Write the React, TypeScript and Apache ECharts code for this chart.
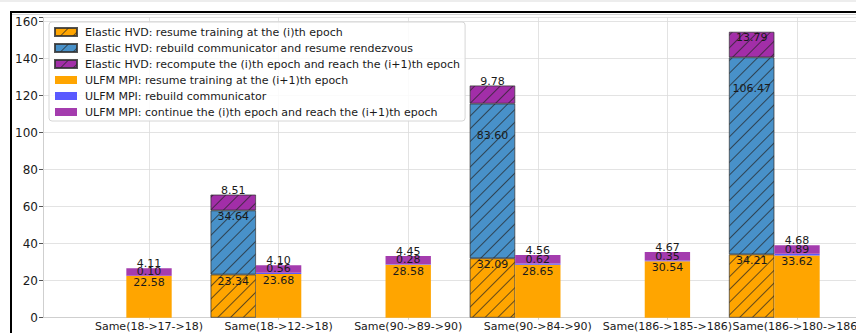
import React, { useEffect, useRef } from 'react';
import * as echarts from 'echarts';

// Recovery scenarios (start -> after failure -> restored worker count)
const categories = [
  'Same(18->17->18)',
  'Same(18->12->18)',
  'Same(90->89->90)',
  'Same(90->84->90)',
  'Same(186->185->186)',
  'Same(186->180->186)',
];

// Elastic Horovod recovery phases, seconds (no run for the single-loss cases)
const elasticResume: (number | null)[] = [null, 23.34, null, 32.09, null, 34.21];
const elasticRebuild: (number | null)[] = [null, 34.64, null, 83.6, null, 106.47];
const elasticRecompute: (number | null)[] = [null, 8.51, null, 9.78, null, 13.79];

// ULFM MPI recovery phases, seconds
const ulfmResume: number[] = [22.58, 23.68, 28.58, 28.65, 30.54, 33.62];
const ulfmRebuild: number[] = [0.1, 0.56, 0.28, 0.62, 0.35, 0.89];
const ulfmContinue: number[] = [4.11, 4.1, 4.45, 4.56, 4.67, 4.68];

const yTickStep = 20;

// ---- layout / style constants ----
const FONT = 'DejaVu Sans, Liberation Sans, sans-serif';
const BAR_SPAN = 0.35; // bar width in category units
const X_MIN = -0.818; // frame extent in category units
const X_MAX = 5.465;
const Y_MAX = 162.3;
const PX_PER_CAT = 129.6;
const GRID_LEFT = 43;
const GRID_TOP = 17.4;
const GRID_HEIGHT = 300.3;
const FIRST_TICK_X = GRID_LEFT - X_MIN * PX_PER_CAT;

const ORANGE = '#FFA500';
const E_BLUE = '#4891C9';
const E_PURPLE = '#A22EA8';
const U_BLUE = '#5A5AFF';
const U_PURPLE = '#A43CAE';

const hatch = {
  symbol: 'rect',
  symbolSize: 1,
  dashArrayX: [1, 0],
  dashArrayY: [1, 8],
  rotation: -Math.PI / 4,
  color: 'rgba(35,35,35,0.7)',
};

type Layer = 'base' | 'mid' | 'top';

function labelFor(layer: Layer, v: number) {
  if (layer === 'base') return { position: 'insideTop', distance: 1 };
  if (layer === 'mid') {
    if (v < 5) return { position: 'top', distance: 0, offset: [0, 1] };
    return { position: 'insideTop', distance: v > 50 ? 26 : 1 };
  }
  if (v > 12) return { position: 'insideTop', distance: 0 };
  return { position: 'top', distance: 0, offset: [0, 1] };
}

function items(values: (number | null)[], layer: Layer) {
  return values.map((v) => (v == null ? '-' : { value: v, label: labelFor(layer, v) }));
}

const labelBase = {
  show: true,
  color: '#1a1a1a',
  fontSize: 11,
  fontFamily: FONT,
  formatter: (p: any) => Number(p.value).toFixed(2),
};

function makeSeries(
  name: string,
  values: (number | null)[],
  layer: Layer,
  color: string,
  elastic: boolean
) {
  return {
    name,
    type: 'bar',
    stack: elastic ? 'elastic' : 'ulfm',
    xAxisIndex: 1,
    yAxisIndex: 1,
    barWidth: BAR_SPAN * PX_PER_CAT,
    barGap: '0%',
    data: items(values, layer),
    label: labelBase,
    itemStyle: elastic
      ? { color, borderColor: 'rgba(50,50,50,0.6)', borderWidth: 0.7, decal: hatch }
      : { color },
    emphasis: { disabled: true },
  };
}

const seriesDefs: any[] = [
  makeSeries('Elastic HVD: resume training at the (i)th epoch', elasticResume, 'base', ORANGE, true),
  makeSeries('Elastic HVD: rebuild communicator and resume rendezvous', elasticRebuild, 'mid', E_BLUE, true),
  makeSeries('Elastic HVD: recompute the (i)th epoch and reach the (i+1)th epoch', elasticRecompute, 'top', E_PURPLE, true),
  makeSeries('ULFM MPI: resume training at the (i+1)th epoch', ulfmResume, 'base', ORANGE, false),
  makeSeries('ULFM MPI: rebuild communicator', ulfmRebuild, 'mid', U_BLUE, false),
  makeSeries('ULFM MPI: continue the (i)th epoch and reach the (i+1)th epoch', ulfmContinue, 'top', U_PURPLE, false),
];

// Empty third slot so that each ULFM bar sits centred on its tick
const spacer = {
  name: '_slot',
  type: 'bar',
  stack: 'slot',
  xAxisIndex: 1,
  yAxisIndex: 1,
  barWidth: BAR_SPAN * PX_PER_CAT,
  barGap: '0%',
  data: categories.map(() => 0),
  itemStyle: { color: 'rgba(0,0,0,0)' },
  label: { show: false },
  silent: true,
};

const catTicks = categories.map((_, i) => i);
const gridColor = '#dcdcdc';
const spineColor = '#cfcfcf';

export default function App() {
  const ref = useRef<HTMLDivElement>(null);

  useEffect(() => {
    if (!ref.current) return;
    const chart = echarts.init(ref.current, undefined, { renderer: 'svg' });
    chart.setOption({
      animation: false,
      backgroundColor: '#ffffff',
      grid: [
        {
          left: GRID_LEFT,
          top: GRID_TOP,
          width: (X_MAX - X_MIN) * PX_PER_CAT,
          height: GRID_HEIGHT,
          containLabel: false,
          outerBoundsMode: 'none',
        },
        {
          left: FIRST_TICK_X - PX_PER_CAT / 2,
          top: GRID_TOP,
          width: categories.length * PX_PER_CAT,
          height: GRID_HEIGHT,
          containLabel: false,
          outerBoundsMode: 'none',
        },
      ],
      legend: {
        orient: 'vertical',
        left: 49,
        top: 22,
        itemWidth: 22,
        itemHeight: 8,
        itemGap: 2,
        padding: [3, 5, 2, 5],
        backgroundColor: 'rgba(255,255,255,0.85)',
        borderColor: '#d6d6d6',
        borderWidth: 1,
        borderRadius: 3,
        icon: 'rect',
        textStyle: { fontSize: 11, fontFamily: FONT, color: '#1a1a1a', lineHeight: 14, padding: [0, 0, 0, 3] },
        data: seriesDefs.map((s) => s.name),
      },
      xAxis: [
        {
          // frame axis: spine, ticks and vertical grid lines
          type: 'value',
          gridIndex: 0,
          min: X_MIN,
          max: X_MAX,
          axisLine: { show: true, onZero: false, lineStyle: { color: spineColor } },
          axisTick: { show: true, length: 2, customValues: catTicks, lineStyle: { color: spineColor } },
          axisLabel: { show: false, customValues: catTicks },
          splitLine: { show: true, lineStyle: { color: gridColor, width: 0.8 } },
        },
        {
          // category axis that carries the bars and their names
          type: 'category',
          gridIndex: 1,
          data: categories,
          axisLine: { show: false },
          axisTick: { show: false },
          splitLine: { show: false },
          axisLabel: {
            interval: 0,
            hideOverlap: false,
            margin: 3,
            fontSize: 11,
            fontFamily: FONT,
            color: '#1a1a1a',
          },
        },
      ],
      yAxis: [
        {
          type: 'value',
          gridIndex: 0,
          min: 0,
          max: Y_MAX,
          interval: yTickStep,
          axisLine: { show: true, onZero: false, lineStyle: { color: spineColor } },
          axisTick: { show: true, length: 4, lineStyle: { color: '#555' } },
          axisLabel: {
            margin: 5,
            fontSize: 12,
            fontFamily: FONT,
            color: '#1a1a1a',
            formatter: (v: number) => (v % yTickStep === 0 ? String(v) : ''),
          },
          splitLine: { show: true, lineStyle: { color: gridColor, width: 0.8 } },
        },
        {
          type: 'value',
          gridIndex: 1,
          min: 0,
          max: Y_MAX,
          show: false,
          splitLine: { show: false },
        },
      ],
      graphic: [
        { type: 'rect', shape: { x: 0, y: 0, width: 856, height: 2 }, style: { fill: '#ededed' }, silent: true },
        { type: 'line', shape: { x1: 10, y1: 12, x2: 856, y2: 12 }, style: { stroke: '#000', lineWidth: 2 }, silent: true },
        { type: 'line', shape: { x1: 11, y1: 11, x2: 11, y2: 333 }, style: { stroke: '#000', lineWidth: 2 }, silent: true },
        { type: 'line', shape: { x1: 12, y1: 14.5, x2: 856, y2: 14.5 }, style: { stroke: '#d4d4d4', lineWidth: 1 }, silent: true },
      ],
      series: [...seriesDefs, spacer],
    });
    return () => chart.dispose();
  }, []);

  return (
    <div
      ref={ref}
      style={{ position: 'absolute', left: 0, top: 0, width: 856, height: 333, background: '#fff' }}
    />
  );
}
